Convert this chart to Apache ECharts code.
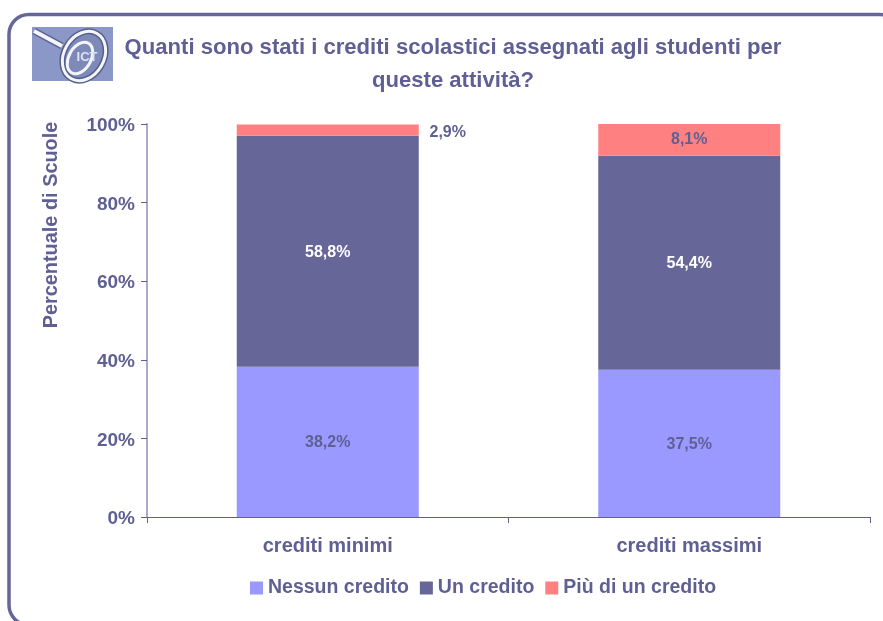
<!DOCTYPE html>
<html><head><meta charset="utf-8">
<style>html,body{margin:0;padding:0;background:#fff}#c{width:883px;height:621px}</style>
<script src="https://cdn.jsdelivr.net/npm/echarts@6/dist/echarts.min.js"></script>
</head><body><div id="c"></div>
<script>
const categories=['crediti minimi','crediti massimi'];
const nessun=[38.2,37.5];
const uno=[58.8,54.4];
const piu=[2.9,8.1];
const C='#5f5f94';
const F='Liberation Sans';
const chart=echarts.init(document.getElementById('c'));
const lab=(color)=>({show:true,position:'inside',offset:[0,1],color:color,fontFamily:F,fontWeight:'bold',fontSize:16,formatter:p=>String(p.value).replace('.',',')+'%'});
chart.setOption({
 animation:false,
 backgroundColor:'#fff',
 title:{text:'Quanti sono stati i crediti scolastici assegnati agli studenti per\nqueste attività?',left:448,top:26,textAlign:'center',textStyle:{color:C,fontFamily:F,fontWeight:'bold',fontSize:22.1,lineHeight:33}},
 grid:{left:147,right:13,top:124,bottom:104},
 legend:{top:578,left:250,padding:0,icon:'rect',itemWidth:13,itemHeight:13,itemGap:11,textStyle:{color:C,fontFamily:F,fontWeight:'bold',fontSize:19.5},data:['Nessun credito','Un credito','Più di un credito']},
 xAxis:{type:'category',data:categories,axisTick:{show:true,length:6,lineStyle:{color:'#60608f'}},axisLine:{lineStyle:{color:'#60608f'}},axisLabel:{color:C,fontFamily:F,fontWeight:'bold',fontSize:20,margin:19}},
 yAxis:{type:'value',min:0,max:100,interval:20,axisLine:{show:true,lineStyle:{color:'#a9a9c9',width:2}},axisTick:{show:true,length:6,lineStyle:{color:'#60608f'}},splitLine:{show:false},axisLabel:{color:C,fontFamily:F,fontWeight:'bold',fontSize:19,margin:12,formatter:'{v|{value}%}',rich:{v:{color:C,fontFamily:F,fontWeight:'bold',fontSize:19,padding:[4,0,0,0]}}}},
 series:[
  {name:'Nessun credito',type:'bar',stack:'a',barWidth:182,data:nessun,itemStyle:{color:'#9999ff'},label:lab(C)},
  {name:'Un credito',type:'bar',stack:'a',data:uno,itemStyle:{color:'#666699'},label:lab('#fff')},
  {name:'Più di un credito',type:'bar',stack:'a',data:piu,itemStyle:{color:'#ff8080'},label:lab(C),labelLayout:p=>p.dataIndex===0?{dx:120,dy:3}:{}}
 ],
 graphic:[
  {type:'text',rotation:Math.PI/2,x:52,y:225,style:{text:'Percentuale di Scuole',fill:C,font:'bold 19.9px "Liberation Sans"',align:'center',verticalAlign:'middle'},silent:true},
  {type:'rect',shape:{x:9,y:14.5,width:891,height:610.5,r:20},style:{fill:'none',stroke:'#666699',lineWidth:3.5},silent:true},
  {type:'rect',shape:{x:32,y:27,width:81,height:54},style:{fill:'#8a97c7'},silent:true},
  {type:'line',shape:{x1:34,y1:31,x2:62,y2:46},style:{stroke:'#5a6390',lineWidth:7},silent:true},
  {type:'line',shape:{x1:34,y1:31,x2:62,y2:46},style:{stroke:'#f4f5fb',lineWidth:4},silent:true},
  {type:'ellipse',x:84,y:56,rotation:Math.PI/3,shape:{cx:0,cy:0,rx:26,ry:20},style:{fill:'#7d89b8',stroke:'#555f8c',lineWidth:6},silent:true},
  {type:'ellipse',x:84,y:56,rotation:Math.PI/3,shape:{cx:0,cy:0,rx:26,ry:20},style:{fill:'none',stroke:'#f4f5fb',lineWidth:3},silent:true},
  {type:'ellipse',x:80,y:58,rotation:Math.PI/3,shape:{cx:0,cy:0,rx:17,ry:11},style:{fill:'none',stroke:'#f4f5fb',lineWidth:3},silent:true},
  {type:'text',style:{x:87,y:57,text:'ICT',fill:'#dfe2f1',font:'bold 13px "Liberation Sans"',align:'center',verticalAlign:'middle'},silent:true}
 ]
});
</script></body></html>
